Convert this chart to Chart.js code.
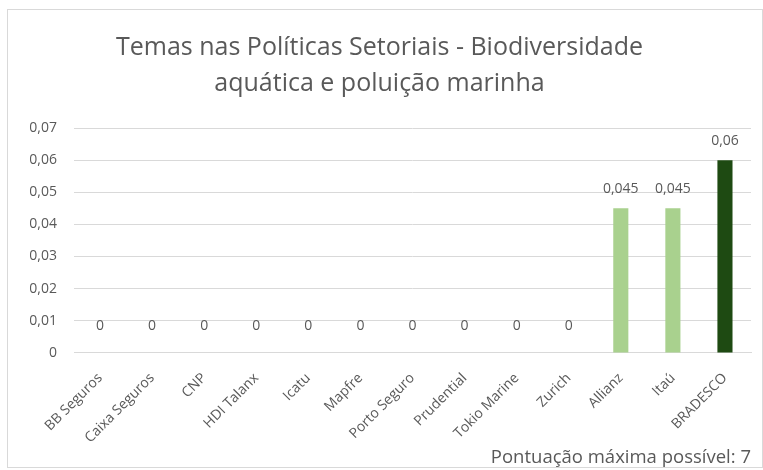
<!DOCTYPE html>
<html>
<head>
<meta charset="utf-8">
<script src="https://cdn.jsdelivr.net/npm/chart.js@4.4.0/dist/chart.umd.min.js"></script>
<style>
    html, body { margin: 0; padding: 0; background: #ffffff; }
    #wrap { position: relative; width: 763px; height: 470px; }
</style>
</head>
<body>
<div id="wrap"><canvas id="policyChart" width="763" height="470"></canvas></div>
<script>
const companies = ["BB Seguros", "Caixa Seguros", "CNP", "HDI Talanx", "Icatu", "Mapfre", "Porto Seguro", "Prudential", "Tokio Marine", "Zurich", "Allianz", "Itaú", "BRADESCO"];
const scores = [0, 0, 0, 0, 0, 0, 0, 0, 0, 0, 0.045, 0.045, 0.06];
const barColors = ["#a9d18e", "#a9d18e", "#a9d18e", "#a9d18e", "#a9d18e", "#a9d18e", "#a9d18e", "#a9d18e", "#a9d18e", "#a9d18e", "#a9d18e", "#a9d18e", "#1e4a12"];
const yTickLabels = ["0", "0,01", "0,02", "0,03", "0,04", "0,05", "0,06", "0,07"];
const titleLines = ["Temas nas Políticas Setoriais - Biodiversidade", "aquática e poluição marinha"];
const footNote = "Pontuação máxima possível: 7";

const textGrey = "#595959";
const fontFamily = "'Open Sans', 'Liberation Sans', sans-serif";

// value labels on top of each bar, like excel's "outside end"
const barValueLabels = {
    id: "barValueLabels",
    afterDatasetsDraw(chart) {
        const ctx = chart.ctx;
        const meta = chart.getDatasetMeta(0);
        ctx.save();
        ctx.font = "14px " + fontFamily;
        ctx.fillStyle = textGrey;
        ctx.textAlign = "center";
        ctx.textBaseline = "middle";
        meta.data.forEach((bar, i) => {
            const txt = String(scores[i]).replace(".", ",");
            ctx.fillText(txt, bar.x, bar.y - (scores[i] === 0 ? 27 : 19));
        });
        ctx.restore();
    }
};

const chartBorder = {
    id: "chartBorder",
    afterDraw(chart) {
        const ctx = chart.ctx;
        ctx.save();
        ctx.strokeStyle = "#d9d9d9";
        ctx.lineWidth = 1;
        ctx.strokeRect(7.5, 9.5, 755, 458);
        ctx.restore();
    }
};

new Chart(document.getElementById("policyChart").getContext("2d"), {
    type: "bar",
    data: {
        labels: companies,
        datasets: [{ data: scores, backgroundColor: barColors, barPercentage: 0.58, categoryPercentage: 0.5 }]
    },
    options: {
        responsive: false,
        animation: false,
        layout: { padding: { left: 8, right: 12, top: 10, bottom: 1 } },
        plugins: {
            legend: { display: false },
            tooltip: { enabled: false },
            title: {
                display: true,
                text: titleLines,
                color: textGrey,
                font: { family: fontFamily, size: 25, weight: "normal", lineHeight: 1.44 },
                padding: { top: 20, bottom: 26 }
            },
            subtitle: {
                display: true,
                text: footNote,
                position: "bottom",
                align: "end",
                color: textGrey,
                font: { family: fontFamily, size: 18.5, weight: "normal", lineHeight: 1.25 },
                padding: { top: 0, bottom: 0 }
            }
        },
        scales: {
            x: {
                grid: { display: false },
                border: { color: "#d9d9d9" },
                ticks: { color: textGrey, font: { family: fontFamily, size: 14 }, minRotation: 45, maxRotation: 45, padding: 9, autoSkip: false },
                afterFit: (scale) => { scale.height = 93; }
            },
            y: {
                min: 0,
                max: 0.07,
                grid: { color: "#d9d9d9", drawTicks: false },
                border: { display: false },
                ticks: { stepSize: 0.01, color: textGrey, font: { family: fontFamily, size: 14 }, padding: 17, callback: (v, i) => yTickLabels[i] },
                afterFit: (scale) => { scale.width = 66; }
            }
        }
    },
    plugins: [barValueLabels, chartBorder]
});
</script>
</body>
</html>
